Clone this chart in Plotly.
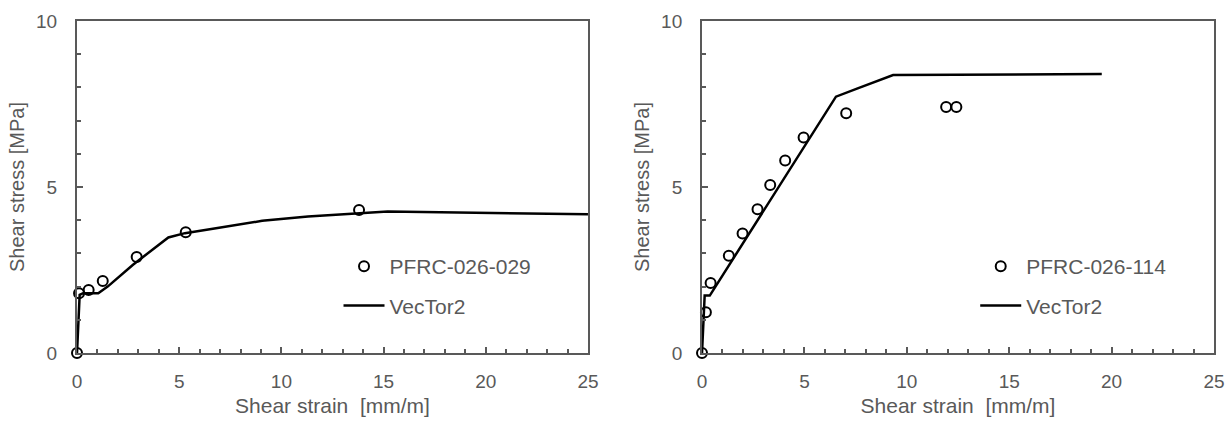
import plotly.graph_objects as go

# ---- data ----
left_test_x = [0, 0.1, 0.57, 1.26, 2.92, 5.32, 13.8]
left_test_y = [0, 1.80, 1.90, 2.17, 2.89, 3.64, 4.31]
left_model_x = [0, 0.13, 0.3, 1.04, 1.5, 2.74, 4.47, 5.28, 6.8, 9.06, 11.3, 13.9, 15.2, 25]
left_model_y = [0, 1.75, 1.80, 1.80, 2.0, 2.66, 3.48, 3.61, 3.76, 3.98, 4.11, 4.21, 4.26, 4.18]

right_test_x = [0, 0.19, 0.42, 1.31, 1.98, 2.71, 3.33, 4.06, 4.96, 7.04, 11.92, 12.42]
right_test_y = [0, 1.23, 2.11, 2.93, 3.60, 4.33, 5.06, 5.80, 6.49, 7.22, 7.41, 7.41]
right_model_x = [0, 0.13, 0.38, 6.54, 7.6, 8.37, 9.33, 19.52]
right_model_y = [0, 1.73, 1.73, 7.72, 7.97, 8.14, 8.37, 8.40]

left_test_name = "PFRC-026-029"
right_test_name = "PFRC-026-114"
model_name = "VecTor2"
x_title = "Shear strain \u00a0[mm/m]"
y_title = "Shear stress [MPa]"
x_ticks = [0, 5, 10, 15, 20, 25]
y_ticks = [0, 5, 10]

GRAY = "#595959"
FONT = "Liberation Sans, Arial, sans-serif"

fig = go.Figure()

def add_pair(tx, ty, mx, my, tname, xa, ya, leg):
    fig.add_trace(go.Scatter(x=mx, y=my, mode="lines", name=model_name,
                             line=dict(color="black", width=2.5),
                             xaxis=xa, yaxis=ya, legend=leg, legendgroup=leg + "m",
                             legendrank=2, cliponaxis=False))
    fig.add_trace(go.Scatter(x=tx, y=ty, mode="markers", name=tname,
                             marker=dict(symbol="circle-open", size=10, color="black",
                                         line=dict(width=2, color="black")),
                             xaxis=xa, yaxis=ya, legend=leg, legendgroup=leg + "t",
                             legendrank=1, cliponaxis=False))

add_pair(left_test_x, left_test_y, left_model_x, left_model_y, left_test_name, "x", "y", "legend")
add_pair(right_test_x, right_test_y, right_model_x, right_model_y, right_test_name, "x2", "y2", "legend2")

def xaxis(domain, anchor):
    return dict(domain=domain, anchor=anchor, range=[0, 25], tickvals=x_ticks,
                showline=True, linecolor=GRAY, linewidth=2, mirror=True,
                ticks="inside", ticklen=6, tickwidth=2, tickcolor=GRAY,
                minor=dict(dtick=1, tick0=0, ticks="inside", ticklen=4, tickwidth=2, tickcolor=GRAY),
                showgrid=False, zeroline=False, ticklabelstandoff=10,
                tickfont=dict(size=19, color=GRAY, family=FONT),
                title=dict(text=x_title, font=dict(size=21, color=GRAY, family=FONT), standoff=8),
                automargin=False)

def yaxis(domain_anchor):
    return dict(domain=[0, 1], anchor=domain_anchor, range=[0, 10], tickvals=y_ticks,
                showline=True, linecolor=GRAY, linewidth=2, mirror=True,
                ticks="inside", ticklen=6, tickwidth=2, tickcolor=GRAY,
                minor=dict(dtick=1, tick0=0, ticks="inside", ticklen=4, tickwidth=2, tickcolor=GRAY),
                showgrid=False, zeroline=False, ticklabelstandoff=14,
                tickfont=dict(size=19, color=GRAY, family=FONT),
                title=dict(text=y_title, font=dict(size=20, color=GRAY, family=FONT), standoff=6),
                automargin=False)

leg_common = dict(font=dict(size=21, color=GRAY, family=FONT), bgcolor="rgba(0,0,0,0)",
                  traceorder="grouped", tracegroupgap=9, xanchor="left", yanchor="top",
                  borderwidth=0, itemwidth=41)

fig.update_layout(
    width=1226, height=424,
    margin=dict(l=77, r=12, t=21, b=71),
    paper_bgcolor="white", plot_bgcolor="white",
    font=dict(family=FONT, color=GRAY),
    xaxis=xaxis([0, 0.4494], "y"),
    yaxis=yaxis("x"),
    xaxis2=xaxis([0.5497, 1], "y2"),
    yaxis2=yaxis("x2"),
    legend=dict(x=0.23, y=0.322, xref="paper", yref="paper", **leg_common),
    legend2=dict(x=0.79, y=0.322, xref="paper", yref="paper", **leg_common),
    showlegend=True,
)

fig.write_html("out.html", config={"displayModeBar": False},
               post_script="document.body.style.margin='0';document.body.style.overflow='hidden';")
